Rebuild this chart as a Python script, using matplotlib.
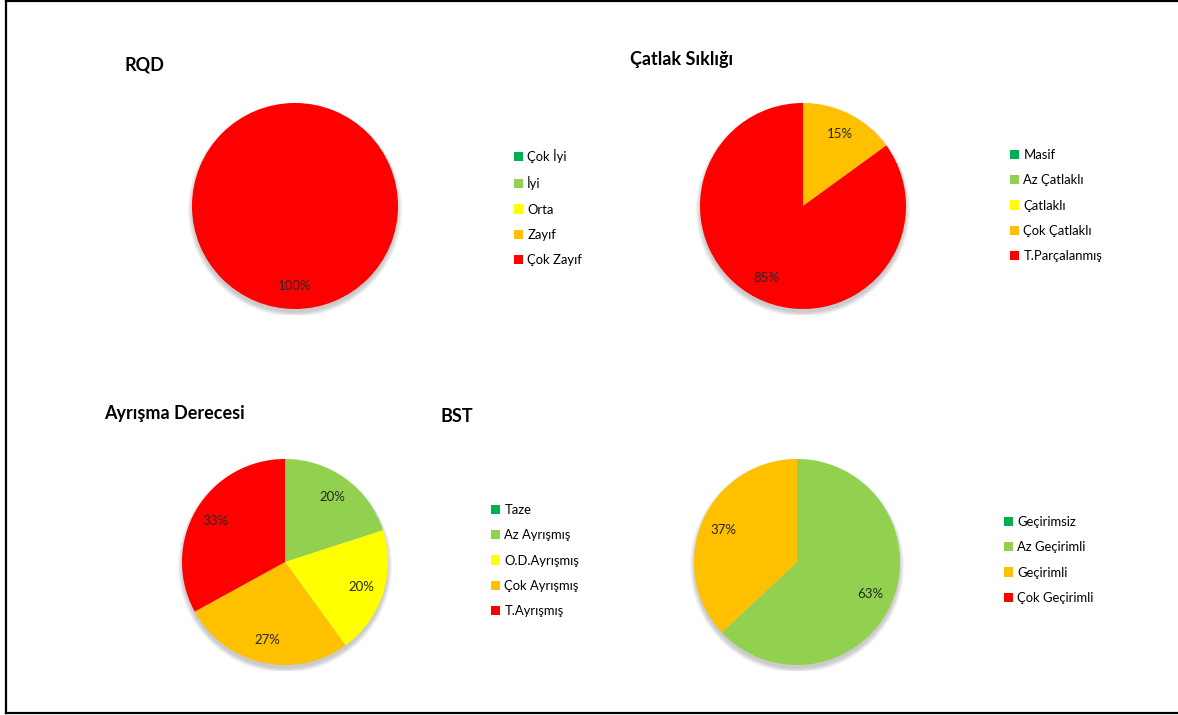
import matplotlib
matplotlib.use("Agg")
import matplotlib.pyplot as plt
from matplotlib.lines import Line2D
from matplotlib.patches import Circle

plt.rcParams['font.family'] = ['Lato', 'DejaVu Sans']

W, H = 1178, 715

# kaya kütlesi parametreleri
rqd_labels = ['Çok İyi', 'İyi', 'Orta', 'Zayıf', 'Çok Zayıf']
rqd_values = [0, 0, 0, 0, 100]

catlak_labels = ['Masif', 'Az Çatlaklı', 'Çatlaklı', 'Çok Çatlaklı', 'T.Parçalanmış']
catlak_values = [0, 0, 0, 15, 85]

ayrisma_labels = ['Taze', 'Az Ayrışmış', 'O.D.Ayrışmış', 'Çok Ayrışmış', 'T.Ayrışmış']
ayrisma_values = [0, 20, 20, 27, 33]

bst_labels = ['Geçirimsiz', 'Az Geçirimli', 'Geçirimli', 'Çok Geçirimli']
bst_values = [0, 63, 37, 0]

renk5 = ['#00B050', '#92D050', '#FFFF00', '#FFC000', '#FF0000']
renk_bst = ['#00B050', '#92D050', '#FFC000', '#FF0000']

fig = plt.figure(figsize=(W / 100, H / 100), dpi=100)


def pasta(cx, cy, r, values, colors, labels, title, title_xy, leg_xy):
    # r: piksel cinsinden yarıçap, eksen biraz daha geniş (gölge için)
    R = r * 1.06
    ax = fig.add_axes([(cx - R) / W, (H - cy - R) / H, 2 * R / W, 2 * R / H])
    # hafif gölge
    for i in range(6):
        ax.add_patch(Circle((0, -0.035), 1.0 + 0.008 * i, color='k',
                            alpha=0.035, lw=0, zorder=0))
    wedges, _, autotexts = ax.pie(
        values, colors=colors, startangle=90, counterclock=False,
        autopct=lambda p: f'{p:.0f}%' if p > 0 else '',
        pctdistance=0.78, wedgeprops=dict(linewidth=0),
        textprops=dict(fontsize=9.5, color='#262626'))
    for w in wedges:
        w.set_zorder(2)
    for t in autotexts:
        t.set_zorder(3)
    ax.set_xlim(-1.06, 1.06)
    ax.set_ylim(-1.06, 1.06)
    ax.set_aspect('equal')
    ax.axis('off')
    fig.text(title_xy[0] / W, 1 - title_xy[1] / H, title, fontsize=13,
             fontweight='bold', ha='left', va='center')
    fig.legend(wedges, labels, loc='upper left',
               bbox_to_anchor=(leg_xy[0] / W, 1 - leg_xy[1] / H),
               frameon=False, fontsize=9.4, handlelength=0.72,
               handleheight=0.72, handletextpad=0.3, labelspacing=1.02,
               borderpad=0, borderaxespad=0)


pasta(295, 206, 103, rqd_values, renk5, rqd_labels, 'RQD', (124, 65), (514, 149))
pasta(803, 206, 103, catlak_values, renk5, catlak_labels, 'Çatlak Sıklığı', (630, 59), (1010, 149))
pasta(285, 562, 103, ayrisma_values, renk5, ayrisma_labels, 'Ayrışma Derecesi', (104, 413), (491, 504))
pasta(797, 562, 103, bst_values, renk_bst, bst_labels, 'BST', (440, 416), (1004, 516))

# çerçeve
for xs, ys in [((6, 6), (1, 713)), ((6, W), (1, 1)), ((6, W), (713, 713))]:
    fig.add_artist(Line2D([x / W for x in xs], [1 - y / H for y in ys],
                          color='black', linewidth=1.6))

fig.savefig('out.png', dpi=100, facecolor='white')
